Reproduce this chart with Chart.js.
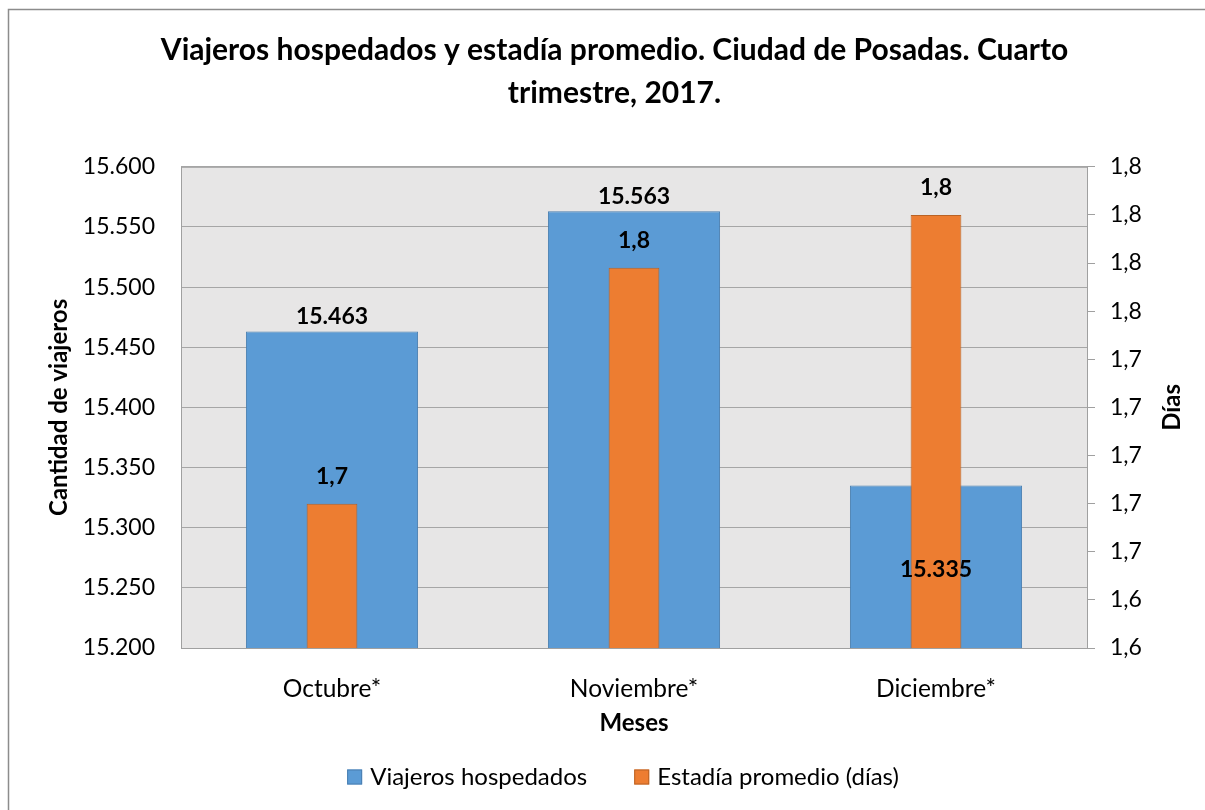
<!DOCTYPE html>
<html lang="es">
<head>
<meta charset="utf-8">
<title>Viajeros hospedados y estadía promedio</title>
<script src="https://cdn.jsdelivr.net/npm/chart.js@4.4.1/dist/chart.umd.min.js"></script>
<style>
  html, body { margin: 0; padding: 0; background: #fff; }
  #wrap { position: relative; width: 1205px; height: 810px; }
</style>
</head>
<body>
<div id="wrap"><canvas id="chart" width="1205" height="810"></canvas></div>
<script>
// Datos del gráfico
const meses = ['Octubre*', 'Noviembre*', 'Diciembre*'];
const viajeros = [15463, 15563, 15335];
const estadia = [1.67, 1.768, 1.79];
const viajerosEtiquetas = ['15.463', '15.563', '15.335'];
const estadiaEtiquetas = ['1,7', '1,8', '1,8'];
const ticksViajeros = ['15.200', '15.250', '15.300', '15.350', '15.400', '15.450', '15.500', '15.550', '15.600'];
const ticksDias = ['1,6', '1,6', '1,7', '1,7', '1,7', '1,7', '1,7', '1,8', '1,8', '1,8', '1,8'];

const FONT = 'Lato, "Open Sans", sans-serif';
const BLUE = '#5b9bd5';
const ORANGE = '#ed7d31';

Chart.defaults.font.family = FONT;
Chart.defaults.color = '#000';

// marco exterior, fondo del área de trazado
const frame = {
    id: 'frame',
    beforeDraw(chart) {
        const { ctx, chartArea: a } = chart;
        ctx.save();
        ctx.fillStyle = '#fff';
        ctx.fillRect(0, 0, chart.width, chart.height);
        ctx.strokeStyle = '#8c8c8c';
        ctx.lineWidth = 1.5;
        ctx.beginPath();
        ctx.moveTo(8.5, chart.height);
        ctx.lineTo(8.5, 9.5);
        ctx.lineTo(chart.width, 9.5);
        ctx.stroke();
        ctx.fillStyle = '#e7e6e6';
        ctx.fillRect(a.left, a.top, a.right - a.left, a.bottom - a.top);
        ctx.restore();
    },
    beforeDatasetsDraw(chart) {
        const { ctx, chartArea: a } = chart;
        ctx.save();
        ctx.strokeStyle = '#a0a0a0';
        ctx.lineWidth = 1;
        ctx.strokeRect(a.left + 0.5, a.top + 0.5, a.right - a.left, a.bottom - a.top);
        ctx.restore();
    }
};

// etiquetas de datos, título "Días" y leyenda
const extras = {
    id: 'extras',
    afterDatasetsDraw(chart, args, opts) {
        const { ctx } = chart;
        ctx.save();
        ctx.font = 'bold 23px ' + FONT;
        ctx.fillStyle = '#000';
        ctx.textAlign = 'center';
        ctx.textBaseline = 'middle';
        chart.data.datasets.forEach((ds, di) => {
            const meta = chart.getDatasetMeta(di);
            meta.data.forEach((bar, i) => {
                const shift = (opts.shifts[di] || [])[i] || 0;
                ctx.fillText(ds.etiquetas[i], bar.x, bar.y + opts.offsets[di] + shift);
            });
        });
        ctx.restore();
    },
    afterDraw(chart, args, opts) {
        const { ctx, chartArea: a } = chart;
        const yR = chart.scales.yDias;
        ctx.save();
        // título del eje derecho, leído de abajo hacia arriba
        ctx.font = 'bold 24px ' + FONT;
        ctx.fillStyle = '#000';
        ctx.textAlign = 'center';
        ctx.textBaseline = 'middle';
        ctx.translate(yR.right - 33, (a.top + a.bottom) / 2);
        ctx.rotate(-Math.PI / 2);
        ctx.fillText('Días', 0, 0);
        ctx.restore();

        // leyenda
        ctx.save();
        ctx.font = '24px ' + FONT;
        ctx.textBaseline = 'middle';
        const box = 15, gapBox = 8, gapItem = 47;
        const items = chart.data.datasets.map(ds => ({ text: ds.label, color: ds.backgroundColor, border: ds.borderColor }));
        let total = 0;
        items.forEach((it, i) => {
            it.w = box + gapBox + ctx.measureText(it.text).width;
            total += it.w + (i ? gapItem : 0);
        });
        let x = opts.legendCenterX - total / 2;
        const y = opts.legendY;
        items.forEach(it => {
            ctx.fillStyle = it.color;
            ctx.fillRect(x, y - box / 2, box, box);
            ctx.strokeStyle = it.border;
            ctx.lineWidth = 1;
            ctx.strokeRect(x + 0.5, y - box / 2 + 0.5, box - 1, box - 1);
            ctx.fillStyle = '#000';
            ctx.fillText(it.text, x + box + gapBox, y);
            x += it.w + gapItem;
        });
        ctx.restore();
    }
};

new Chart(document.getElementById('chart'), {
    type: 'bar',
    data: {
        labels: meses,
        datasets: [
            {
                label: 'Viajeros hospedados',
                data: viajeros,
                etiquetas: viajerosEtiquetas,
                yAxisID: 'yViajeros',
                backgroundColor: BLUE,
                borderColor: '#4a7fb0',
                borderWidth: 1,
                grouped: false,
                categoryPercentage: 1,
                barPercentage: 0.57,
                order: 1,
            },
            {
                label: 'Estadía promedio (días)',
                data: estadia,
                etiquetas: estadiaEtiquetas,
                yAxisID: 'yDias',
                backgroundColor: ORANGE,
                borderColor: '#ba6325',
                borderWidth: 1,
                grouped: false,
                categoryPercentage: 1,
                barPercentage: 0.168,
                order: 0,
            },
        ],
    },
    options: {
        responsive: false,
        animation: false,
        devicePixelRatio: 1,
        layout: { padding: { left: 24 } },
        plugins: {
            legend: { display: false },
            tooltip: { enabled: false },
            title: {
                display: true,
                text: ['Viajeros hospedados y estadía promedio. Ciudad de Posadas. Cuarto', 'trimestre, 2017.'],
                color: '#000',
                font: { family: FONT, size: 30, weight: 'bold', lineHeight: 1.43 },
                padding: { top: 29, bottom: 52 },
            },
            extras: {
                offsets: [-15, -27],
                shifts: [[0, 0, 99], []],
                legendY: 777,
                legendCenterX: 623,
            },
        },
        scales: {
            x: {
                grid: { display: false },
                border: { display: false },
                ticks: { color: '#000', font: { size: 24.5 }, padding: 18 },
                title: {
                    display: true,
                    text: 'Meses',
                    color: '#000',
                    font: { size: 24, weight: 'bold' },
                    padding: { bottom: 72 },
                },
                afterFit: s => { s.height = 162; },
            },
            yViajeros: {
                position: 'left',
                min: 15200,
                max: 15600,
                grid: { color: '#a6a6a6', drawTicks: false, lineWidth: 1 },
                border: { display: false },
                ticks: {
                    stepSize: 50,
                    color: '#000',
                    font: { size: 23 },
                    padding: 26,
                    callback: (v, i) => ticksViajeros[i],
                },
                title: {
                    display: true,
                    text: 'Cantidad de viajeros',
                    color: '#000',
                    font: { size: 24, weight: 'bold' },
                    padding: { top: 21 },
                },
                afterFit: s => { s.width = 157; },
            },
            yDias: {
                position: 'right',
                min: 1.61,
                max: 1.81,
                grid: { drawOnChartArea: false, drawTicks: true, tickLength: 8, color: '#a0a0a0' },
                border: { display: true, color: '#a0a0a0' },
                ticks: {
                    stepSize: 0.02,
                    color: '#000',
                    font: { size: 23 },
                    padding: 15,
                    callback: (v, i) => ticksDias[i],
                },
                afterFit: s => { s.width = 118; },
            },
        },
    },
    plugins: [frame, extras],
});
</script>
</body>
</html>
